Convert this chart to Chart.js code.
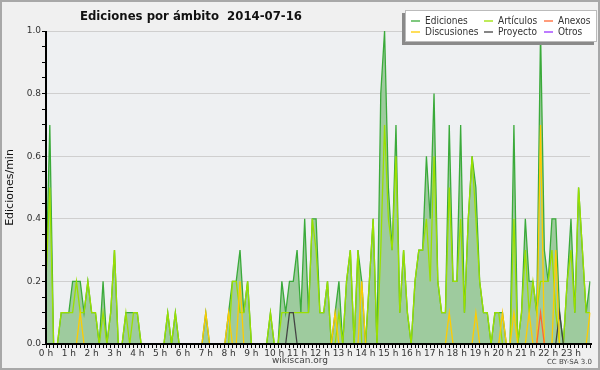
<!DOCTYPE html>
<html>
<head>
<meta charset="utf-8">
<title>Ediciones por ámbito</title>
<script src="https://cdn.jsdelivr.net/npm/chart.js@4/dist/chart.umd.min.js"></script>
<style>
  html, body { margin: 0; padding: 0; background: #f0f0f0; }
  canvas { display: block; }
</style>
</head>
<body>
<canvas id="grafico" width="600" height="370"></canvas>
<script>
// etiquetas del eje x (una por hora) y tramos de 10 minutos
const horas = ['0 h', '1 h', '2 h', '3 h', '4 h', '5 h', '6 h', '7 h', '8 h', '9 h', '10 h', '11 h',
  '12 h', '13 h', '14 h', '15 h', '16 h', '17 h', '18 h', '19 h', '20 h', '21 h', '22 h', '23 h'];
const minutos = ['00', '10', '20', '30', '40', '50'];

// ediciones/min, una fila por hora (6 tramos de 10 min)
const ediciones = [
  0.2, 0.7, 0, 0, 0.1, 0.1,
  0.1, 0.2, 0.2, 0.2, 0.1, 0.2,
  0.1, 0.1, 0, 0.2, 0, 0.1,
  0.3, 0, 0, 0.1, 0.1, 0.1,
  0.1, 0, 0, 0, 0, 0,
  0, 0, 0.1, 0, 0.1, 0,
  0, 0, 0, 0, 0, 0,
  0.1, 0, 0, 0, 0, 0,
  0.1, 0.2, 0.2, 0.3, 0.1, 0.2,
  0, 0, 0, 0, 0, 0.1,
  0, 0, 0.2, 0.1, 0.2, 0.2,
  0.3, 0.1, 0.4, 0.1, 0.4, 0.4,
  0.1, 0.1, 0.2, 0, 0.1, 0.2,
  0, 0.2, 0.3, 0, 0.3, 0.2,
  0, 0.2, 0.4, 0, 0.8, 1.0,
  0.5, 0.3, 0.7, 0.1, 0.3, 0.1,
  0, 0.2, 0.3, 0.3, 0.6, 0.4,
  0.8, 0.2, 0.1, 0.1, 0.7, 0.2,
  0.2, 0.7, 0.1, 0.4, 0.6, 0.5,
  0.2, 0.1, 0.1, 0, 0.1, 0.1,
  0.1, 0, 0, 0.7, 0, 0.1,
  0.4, 0.2, 0.2, 0.1, 1.0, 0.3,
  0.2, 0.4, 0.4, 0.1, 0, 0.2,
  0.4, 0.1, 0.5, 0.3, 0.1, 0.2
];

const articulos = [
  0.2, 0.5, 0, 0, 0.1, 0.1,
  0.1, 0.1, 0.2, 0.1, 0.1, 0.2,
  0.1, 0.1, 0, 0.1, 0, 0.1,
  0.3, 0, 0, 0.1, 0, 0.1,
  0.1, 0, 0, 0, 0, 0,
  0, 0, 0.1, 0, 0.1, 0,
  0, 0, 0, 0, 0, 0,
  0, 0, 0, 0, 0, 0,
  0, 0.2, 0.2, 0.1, 0.1, 0.2,
  0, 0, 0, 0, 0, 0.1,
  0, 0, 0.1, 0.1, 0.1, 0.1,
  0.1, 0.1, 0.1, 0.1, 0.4, 0.3,
  0.1, 0.1, 0.2, 0, 0, 0.1,
  0, 0.2, 0.3, 0, 0.3, 0,
  0, 0.2, 0.4, 0, 0.3, 0.7,
  0.4, 0.3, 0.6, 0.1, 0.3, 0.1,
  0, 0.2, 0.3, 0.3, 0.4, 0.2,
  0.6, 0.2, 0.1, 0.1, 0.5, 0.2,
  0.2, 0.4, 0.1, 0.4, 0.6, 0.4,
  0.2, 0.1, 0.1, 0, 0.1, 0.1,
  0, 0, 0, 0.4, 0, 0.1,
  0.3, 0.1, 0.2, 0.1, 0.2, 0.2,
  0.2, 0.3, 0.1, 0, 0, 0.2,
  0.3, 0.1, 0.5, 0.3, 0.1, 0.1
];

const discusiones = [
  0, 0, 0, 0, 0, 0,
  0, 0, 0, 0.1, 0, 0,
  0, 0, 0, 0, 0, 0,
  0, 0, 0, 0, 0, 0,
  0, 0, 0, 0, 0, 0,
  0, 0, 0, 0, 0, 0,
  0, 0, 0, 0, 0, 0,
  0.1, 0, 0, 0, 0, 0,
  0.1, 0, 0, 0.2, 0, 0,
  0, 0, 0, 0, 0, 0,
  0, 0, 0, 0, 0, 0,
  0, 0, 0, 0, 0, 0,
  0, 0, 0, 0, 0.1, 0,
  0, 0, 0, 0, 0, 0.2,
  0, 0, 0, 0, 0, 0,
  0, 0, 0, 0, 0, 0,
  0, 0, 0, 0, 0, 0,
  0, 0, 0, 0, 0.1, 0,
  0, 0, 0, 0, 0, 0.1,
  0, 0, 0, 0, 0, 0,
  0.1, 0, 0, 0.1, 0, 0,
  0, 0.1, 0, 0, 0.7, 0,
  0, 0, 0.3, 0, 0, 0,
  0, 0, 0, 0, 0, 0.1
];

const anexos = [
  0, 0, 0, 0, 0, 0,  0, 0, 0, 0, 0, 0,  0, 0, 0, 0, 0, 0,  0, 0, 0, 0, 0, 0,
  0, 0, 0, 0, 0, 0,  0, 0, 0, 0, 0, 0,  0, 0, 0, 0, 0, 0,  0, 0, 0, 0, 0, 0,
  0, 0, 0, 0, 0, 0,  0, 0, 0, 0, 0, 0,  0, 0, 0, 0, 0, 0,  0, 0, 0, 0, 0, 0,
  0, 0, 0, 0, 0, 0,  0, 0, 0, 0, 0, 0,  0, 0, 0, 0, 0, 0,  0, 0, 0, 0, 0, 0,
  0, 0, 0, 0, 0, 0,  0, 0, 0, 0, 0, 0,  0, 0, 0, 0, 0, 0,  0, 0, 0, 0, 0, 0,
  0, 0, 0, 0, 0, 0,  0, 0, 0, 0, 0.1, 0,  0, 0, 0, 0, 0, 0,  0, 0, 0, 0, 0, 0
];

const proyecto = [
  0, 0, 0, 0, 0, 0,  0, 0, 0, 0, 0, 0,  0, 0, 0, 0, 0, 0,  0, 0, 0, 0, 0, 0,
  0, 0, 0, 0, 0, 0,  0, 0, 0, 0, 0, 0,  0, 0, 0, 0, 0, 0,  0, 0, 0, 0, 0, 0,
  0, 0, 0, 0, 0, 0,  0, 0, 0, 0, 0, 0,  0, 0, 0, 0, 0.1, 0.1,  0, 0, 0, 0, 0, 0,
  0, 0, 0, 0, 0, 0,  0, 0, 0, 0, 0, 0,  0, 0, 0, 0, 0, 0,  0, 0, 0, 0, 0, 0,
  0, 0, 0, 0, 0, 0,  0, 0, 0, 0, 0, 0,  0, 0, 0, 0, 0, 0,  0, 0, 0, 0, 0, 0,
  0, 0, 0, 0, 0, 0,  0, 0, 0, 0, 0, 0,  0, 0, 0, 0.1, 0, 0,  0, 0, 0, 0, 0, 0
];

const otros = [
  0, 0, 0, 0, 0, 0,  0, 0, 0, 0, 0, 0,  0, 0, 0, 0, 0, 0,  0, 0, 0, 0, 0, 0,
  0, 0, 0, 0, 0, 0,  0, 0, 0, 0, 0, 0,  0, 0, 0, 0, 0, 0,  0, 0, 0, 0, 0, 0,
  0, 0, 0, 0, 0, 0,  0, 0, 0, 0, 0, 0,  0, 0, 0, 0, 0, 0,  0, 0, 0, 0, 0, 0,
  0, 0, 0, 0, 0, 0,  0, 0, 0, 0, 0, 0,  0, 0, 0, 0, 0, 0,  0, 0, 0, 0, 0, 0,
  0, 0, 0, 0, 0, 0,  0, 0, 0, 0, 0, 0,  0, 0, 0, 0, 0, 0,  0, 0, 0, 0, 0, 0,
  0, 0, 0, 0, 0, 0,  0, 0, 0, 0, 0, 0,  0, 0, 0, 0, 0, 0,  0, 0, 0, 0, 0, 0
];

const tramos = horas.flatMap(h => minutos.map(m => h.replace(' h', '') + ':' + m));

const FUENTE = "'DejaVu Sans', sans-serif";
const ESTRECHA = "'DejaVu Sans Condensed', 'Liberation Sans Narrow', 'DejaVu Sans', sans-serif";

function serie(label, data, color, order) {
    return {
        label: label,
        data: data,
        borderColor: color,
        backgroundColor: color,
        borderWidth: 1.3,
        pointRadius: 0,
        tension: 0,
        fill: false,
        order: order
    };
}

const fondo = {
    id: 'fondo',
    beforeDraw(chart) {
        const { ctx, chartArea: a } = chart;
        ctx.save();
        ctx.fillStyle = '#f0f0f0';
        ctx.fillRect(0, 0, chart.width, chart.height);
        ctx.fillStyle = '#eef0f2';
        ctx.fillRect(a.left, a.top, a.right - a.left, a.bottom - a.top);
        ctx.strokeStyle = '#a8a8a8';
        ctx.lineWidth = 2;
        ctx.strokeRect(1, 1, chart.width - 2, chart.height - 2);
        ctx.restore();
    }
};

// ejes negros por encima de las series que valen 0
const ejes = {
    id: 'ejes',
    afterDatasetsDraw(chart) {
        const { ctx, chartArea: a } = chart;
        ctx.save();
        ctx.strokeStyle = '#000';
        ctx.lineWidth = 2;
        ctx.beginPath();
        ctx.moveTo(a.left, a.top);
        ctx.lineTo(a.left, a.bottom);
        ctx.lineTo(a.right + 2, a.bottom);
        ctx.stroke();
        ctx.restore();
    }
};

const textos = {
    id: 'textos',
    afterDraw(chart) {
        const ctx = chart.ctx;
        ctx.save();
        ctx.textBaseline = 'middle';

        ctx.fillStyle = '#111';
        ctx.font = "bold 13px " + ESTRECHA;
        ctx.textAlign = 'left';
        ctx.fillText('Ediciones por ámbito  2014-07-16', 80, 17);

        ctx.fillStyle = '#444';
        ctx.font = "9px " + FUENTE;
        ctx.textAlign = 'center';
        ctx.fillText('wikiscan.org', 300, 361);
        ctx.font = "7px " + FUENTE;
        ctx.textAlign = 'right';
        ctx.fillText('CC BY-SA 3.0', 592, 362);

        // leyenda en 3 columnas
        const x0 = 405, y0 = 10, w = 192, h = 32;
        ctx.fillStyle = '#8a8a8a';
        ctx.fillRect(x0 - 3, y0 + 3, w, h);
        ctx.fillStyle = '#fff';
        ctx.fillRect(x0, y0, w, h);
        ctx.strokeStyle = '#bbb';
        ctx.lineWidth = 1;
        ctx.strokeRect(x0 + 0.5, y0 + 0.5, w - 1, h - 1);

        const colX = [411, 484, 544];
        const filaY = [21, 32];
        ctx.font = "10px " + ESTRECHA;
        ctx.textAlign = 'left';
        chart.data.datasets.forEach((ds, i) => {
            const x = colX[i % 3], y = filaY[Math.floor(i / 3)];
            ctx.strokeStyle = ds.borderColor;
            ctx.lineWidth = 1.3;
            ctx.beginPath();
            ctx.moveTo(x, y);
            ctx.lineTo(x + 9, y);
            ctx.stroke();
            ctx.fillStyle = '#333';
            ctx.fillText(ds.label, x + 14, y);
        });
        ctx.restore();
    }
};

const dsEdiciones = serie('Ediciones', ediciones, '#3aaa3a', 6);
dsEdiciones.fill = 'origin';
dsEdiciones.backgroundColor = '#9ecb9e';

new Chart(document.getElementById('grafico'), {
    type: 'line',
    data: {
        labels: tramos,
        datasets: [
            dsEdiciones,
            serie('Artículos', articulos, '#9be000', 5),
            serie('Anexos', anexos, '#ff6633', 1),
            serie('Discusiones', discusiones, '#ffcc00', 2),
            serie('Proyecto', proyecto, '#444444', 3),
            serie('Otros', otros, '#9933ff', 4)
        ]
    },
    options: {
        responsive: false,
        animation: false,
        layout: { padding: { top: 31, right: 10, bottom: 0, left: 0 } },
        plugins: {
            legend: { display: false },
            tooltip: { enabled: false }
        },
        scales: {
            x: {
                offset: false,
                border: { display: false },
                grid: { drawOnChartArea: false, tickLength: 4, tickColor: '#000', tickWidth: 1 },
                ticks: {
                    autoSkip: false,
                    maxRotation: 0,
                    minRotation: 0,
                    padding: 0,
                    color: '#333',
                    font: { family: FUENTE, size: 9 },
                    callback: (v, i) => i % 6 === 0 ? horas[i / 6] : ''
                },
                afterFit: s => { s.height = 26; }
            },
            y: {
                min: 0,
                max: 1,
                border: { display: false },
                grid: {
                    color: c => (c.tick && c.tick.value > 0 && Math.round(c.tick.value * 100) % 20 === 0) ? '#cfcfcf' : 'rgba(0,0,0,0)',
                    tickColor: '#000',
                    tickLength: 4,
                    lineWidth: 1
                },
                ticks: {
                    stepSize: 0.05,
                    padding: 1,
                    color: '#333',
                    font: { family: FUENTE, size: 9 },
                    callback: v => Math.round(v * 100) % 20 === 0 ? v.toFixed(1) : ''
                },
                title: {
                    display: true,
                    text: 'Ediciones/min',
                    color: '#111',
                    font: { family: FUENTE, size: 11 },
                    padding: { top: 4, bottom: 0 }
                },
                afterFit: s => { s.width = 46; }
            }
        }
    },
    plugins: [fondo, ejes, textos]
});
</script>
</body>
</html>
